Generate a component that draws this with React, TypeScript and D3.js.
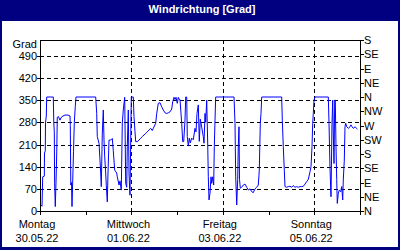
import React from "react";
import * as d3 from "d3";

const title = "Windrichtung [Grad]";
const yUnit = "Grad";
const leftTicks = [0, 70, 140, 210, 280, 350, 420, 490];
const compassTicks = [0, 45, 90, 135, 180, 225, 270, 315, 360, 405, 450, 495, 540];
const compassLabels = ["N", "NE", "E", "SE", "S", "SW", "W", "NW", "N", "NE", "E", "SE", "S"];
const dayOffsets = [0, 2, 4, 6];
const dayNames = ["Montag", "Mittwoch", "Freitag", "Sonntag"];
const dateLabels = ["30.05.22", "01.06.22", "03.06.22", "05.06.22"];

// hours since 30.05.22 00:00
const hoursOffset = [
  0.26, 1.05, 1.42, 2.26, 2.36, 2.78, 2.89, 3.31, 3.52, 6.98, 7.25, 7.51, 7.67, 8.03, 8.4, 8.77, 9.08, 9.71,
  10.5, 11.03, 12.08, 13.13, 14.7, 15.75, 15.91, 16.17, 16.54, 16.8, 17.17, 17.59, 18.01, 18.53, 18.9,
  29.24, 29.77, 30.08, 30.98, 31.5, 31.87, 32.18, 32.71, 33.23, 33.6, 33.97, 34.49, 34.81, 35.33, 35.7,
  36.23, 37.12, 37.96, 38.48, 39.22, 40.27, 40.58, 41.48, 42, 42.68, 43.21, 43.73, 44.47, 44.99, 45.52,
  45.83, 46.36, 46.73, 47.09, 47.25, 47.93, 48.98, 49.35, 49.88, 50.24, 51.08, 51.98, 52.87, 53.71, 54.6,
  55.49, 56.33, 57.23, 58.12, 58.96, 59.48, 60.74, 61.27, 62.11, 63, 63.89, 64.73, 65.63, 66.52, 67.36,
  68.25, 69.14, 69.67, 70.35, 70.88, 71.4, 72.08, 72.61, 73.13, 73.5, 74.39, 74.92, 75.44, 76.13, 76.49,
  77.02, 77.33, 77.86, 78.38, 78.91, 79.64, 80.48, 81.38, 81.9, 82.43, 83.11, 83.63, 84.16, 84.89, 85.73,
  86.1, 86.63, 86.99, 87.52, 88.04, 88.36, 88.73, 89.25, 89.78, 90.14, 90.67, 91.19, 91.51, 91.88, 92.24,
  101.85, 102.38, 102.74, 103.27, 103.79, 104.11, 104.48, 104.74, 105.16, 105.89, 106.73, 107.63, 108.52,
  109.36, 110.25, 111.14, 111.98, 112.88, 113.77, 114.61, 115.13, 115.66, 116.03, 116.39,
  126.89, 127.21, 127.73, 128.26, 128.63, 129.52, 130.36, 131.25, 132.14, 132.98, 133.88, 134.77, 135.61,
  136.5, 137.39, 138.23, 139.13, 140.02, 140.86, 141.75, 142.28, 142.8, 143.17, 143.48, 143.85, 144.38,
  151.36, 151.73, 152.25, 152.78, 153.3, 153.67, 153.98, 154.35, 154.72, 155.03, 155.4, 155.77, 156.08,
  156.61, 157.13, 157.87, 158.39, 158.92, 159.23, 159.76, 160.13, 160.49, 161.02, 161.86, 162.75, 163.28,
  163.8, 164.48, 165.38, 166.27, 166.58,
];

const directionDeg = [
  20, 15, 108, 110, 183, 190, 278, 300, 360, 360, 278, 250, 88, 14, 90, 180, 296, 298,
  287, 295, 300, 303, 303, 300, 270, 82, 90, 14, 95, 187, 280, 330, 360,
  360, 308, 235, 214, 161, 120, 77, 246, 319, 224, 171, 120, 80, 29, 120,
  224, 224, 229, 190, 129, 120, 108, 82, 95, 66, 278, 319, 359, 88, 75,
  203, 319, 120, 66, 50, 360, 360, 298, 250, 219, 219, 224, 230, 235, 240,
  245, 250, 256, 261, 254, 261, 277, 308, 340, 342, 329, 319, 310, 308, 310,
  313, 322, 345, 359, 352, 359, 340, 359, 352, 352, 277, 219, 219, 287, 360,
  360, 235, 205, 230, 215, 230, 225, 261, 250, 308, 335, 220, 290, 265, 235,
  214, 308, 280, 350, 215, 108, 35, 56, 108, 87, 108, 82, 203, 287, 360,
  360, 277, 108, 19, 100, 208, 266, 100, 72, 75, 82, 85, 75,
  66, 70, 61, 58, 70, 75, 82, 129, 277, 308, 360,
  360, 287, 203, 129, 77, 75, 77, 78, 75, 80, 75, 77, 75,
  77, 77, 78, 85, 93, 100, 124, 140, 203, 277, 308, 350, 360,
  360, 277, 136, 45, 277, 350, 250, 150, 350, 350, 203, 100, 24,
  56, 66, 61, 77, 35, 98, 161, 266, 277, 266, 261, 266, 272,
  266, 261, 266, 261, 258,
];

const W = 400;
const H = 250;
const L = 40;
const R = 360;
const T = 40;
const B = 211;
const START = Date.UTC(2022, 4, 30);
const HOUR = 3600 * 1000;

export default function App() {
  const x = d3.scaleUtc().domain([new Date(START), new Date(START + 7 * 24 * HOUR)]).range([L, R]);
  const y = d3.scaleLinear().domain([0, 540]).range([B, T]);
  const data = hoursOffset.map((h, i) => ({ t: new Date(START + h * HOUR), v: directionDeg[i] }));
  const line = d3
    .line<{ t: Date; v: number }>()
    .x((d) => x(d.t))
    .y((d) => y(d.v));
  const days = d3.range(0, 8).map((d) => new Date(START + d * 24 * HOUR));
  const font = "'Liberation Sans', Arial, sans-serif";

  return (
    <svg
      width={W}
      height={H}
      style={{ position: "fixed", left: 0, top: 0, display: "block" }}
      fontFamily={font}
    >
      <rect x={0} y={0} width={W} height={H} fill="#000080" />
      <rect x={2} y={21} width={W - 4} height={H - 24} fill="#ffffff" />
      <text x={202} y={13} fill="#ffffff" fontSize={11} fontWeight="bold" textAnchor="middle">
        {title}
      </text>

      {/* grid */}
      <g shapeRendering="crispEdges">
        {leftTicks.filter((v) => v > 0).map((v) => (
          <line key={"hg" + v} x1={L} x2={R} y1={Math.round(y(v)) + 0.5} y2={Math.round(y(v)) + 0.5}
            stroke="#000" strokeDasharray="4,3" />
        ))}
        {dayOffsets.filter((d) => d > 0).map((d) => {
          const xx = Math.round(x(days[d])) + 0.5;
          return <line key={"vg" + d} x1={xx} x2={xx} y1={T} y2={B} stroke="#000" strokeDasharray="4,3" />;
        })}
      </g>

      <path d={line(data) || ""} fill="none" stroke="#0000ff" strokeWidth={1} />

      {/* frame */}
      <g shapeRendering="crispEdges" stroke="#000">
        <rect x={L + 0.5} y={T + 0.5} width={R - L} height={B - T} fill="none" />
        {leftTicks.map((v) => (
          <line key={"lt" + v} x1={L - 3} x2={L} y1={Math.round(y(v)) + 0.5} y2={Math.round(y(v)) + 0.5} />
        ))}
        {compassTicks.map((v) => (
          <line key={"rt" + v} x1={R} x2={R + 4} y1={Math.round(y(v)) + 0.5} y2={Math.round(y(v)) + 0.5} />
        ))}
        {days.map((d, i) => {
          const xx = Math.round(x(d)) + 0.5;
          return <line key={"bt" + i} x1={xx} x2={xx} y1={B} y2={B + 4} />;
        })}
      </g>

      {/* left labels */}
      <g fontSize={11} fill="#000" textAnchor="end">
        <text x={37} y={48}>{yUnit}</text>
        {leftTicks.map((v) => (
          <text key={"ll" + v} x={37} y={y(v) + 4}>{v}</text>
        ))}
      </g>

      {/* right labels */}
      <g fontSize={11} fill="#000" textAnchor="start">
        {compassTicks.map((v, i) => (
          <text key={"rl" + v} x={364} y={y(v) + 4}>{compassLabels[i]}</text>
        ))}
      </g>

      {/* bottom labels */}
      <g fontSize={11} fill="#000" textAnchor="middle">
        {dayOffsets.map((d, i) => {
          const xx = x(days[d]) - 3;
          return (
            <g key={"bl" + d}>
              <text x={xx} y={228}>{dayNames[i]}</text>
              <text x={xx} y={242}>{dateLabels[i]}</text>
            </g>
          );
        })}
      </g>
    </svg>
  );
}
